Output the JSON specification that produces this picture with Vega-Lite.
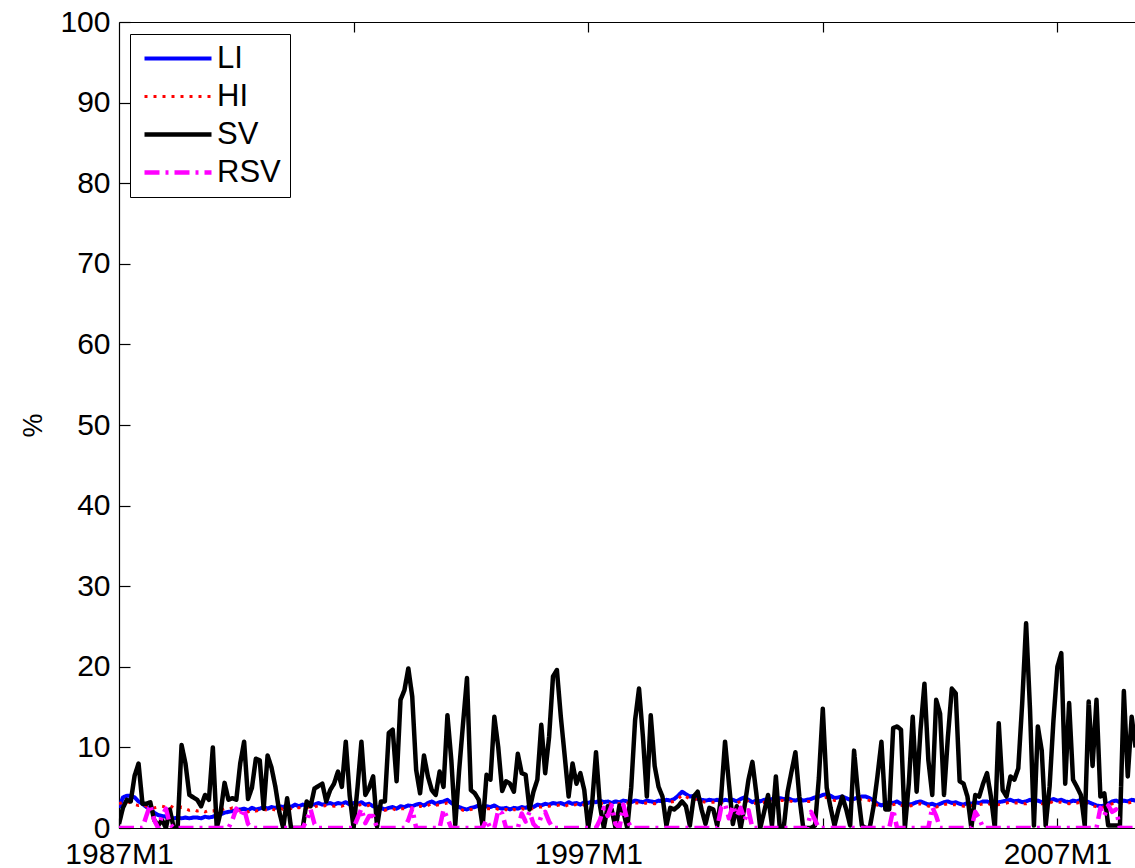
{
"$schema": "https://vega.github.io/schema/vega-lite/v6.json",
"width": 1016, "height": 806,
"autosize": {"type": "none"},
"padding": {"left": 119, "top": 22, "right": 0, "bottom": 40},
"background": "white",
"config": {"view": {"stroke": null}, "font": "Liberation Sans",
  "axis": {"domainColor": "#000", "tickColor": "#000", "labelColor": "#000", "titleColor": "#000", "grid": false, "labelFontSize": 30, "labelFont": "Liberation Sans", "domainWidth": 1.2, "tickWidth": 1.2},
  "legend": {"title": null, "orient": "none", "legendX": 11, "legendY": 12, "symbolType": "M-1,0H5.7", "symbolSize": 400, "labelFontSize": 31, "labelFont": "Liberation Sans", "labelColor": "#000", "padding": 9, "rowPadding": 6, "strokeColor": "#000", "fillColor": "#fff", "labelOffset": 47, "symbolStrokeWidth": 4}},
"data": {"values": [
{"m":0,"LI":2.5,"HI":3.0,"SV":0.5,"RSV":0},
{"m":1,"LI":3.8,"HI":3.2,"SV":2.5,"RSV":0},
{"m":2,"LI":4.0,"HI":3.3,"SV":3.5,"RSV":0},
{"m":3,"LI":4.0,"HI":3.1,"SV":3.3,"RSV":0},
{"m":4,"LI":3.8,"HI":2.9,"SV":6.5,"RSV":0},
{"m":5,"LI":3.3,"HI":2.8,"SV":8.0,"RSV":0},
{"m":6,"LI":3.0,"HI":2.9,"SV":3.0,"RSV":0},
{"m":7,"LI":2.6,"HI":2.7,"SV":3.0,"RSV":1.5},
{"m":8,"LI":2.3,"HI":2.6,"SV":3.2,"RSV":2.9},
{"m":9,"LI":1.9,"HI":2.5,"SV":1.0,"RSV":1.0},
{"m":10,"LI":1.6,"HI":2.6,"SV":0.3,"RSV":0},
{"m":11,"LI":1.5,"HI":2.7,"SV":1.0,"RSV":1.5},
{"m":12,"LI":1.4,"HI":2.6,"SV":0.0,"RSV":2.4},
{"m":13,"LI":1.3,"HI":2.8,"SV":2.3,"RSV":0.5},
{"m":14,"LI":1.2,"HI":2.5,"SV":0.0,"RSV":0},
{"m":15,"LI":1.3,"HI":2.4,"SV":0.0,"RSV":0},
{"m":16,"LI":1.2,"HI":2.6,"SV":10.3,"RSV":0},
{"m":17,"LI":1.3,"HI":2.4,"SV":8.0,"RSV":0},
{"m":18,"LI":1.2,"HI":2.2,"SV":4.1,"RSV":0},
{"m":19,"LI":1.3,"HI":2.3,"SV":3.8,"RSV":0},
{"m":20,"LI":1.3,"HI":2.1,"SV":3.5,"RSV":0},
{"m":21,"LI":1.2,"HI":2.2,"SV":2.7,"RSV":0},
{"m":22,"LI":1.4,"HI":2.0,"SV":4.1,"RSV":0},
{"m":23,"LI":1.3,"HI":2.2,"SV":3.5,"RSV":0},
{"m":24,"LI":1.4,"HI":2.1,"SV":10.0,"RSV":0},
{"m":25,"LI":1.6,"HI":2.3,"SV":0.0,"RSV":0},
{"m":26,"LI":1.7,"HI":2.2,"SV":2.0,"RSV":0},
{"m":27,"LI":1.9,"HI":2.4,"SV":5.6,"RSV":0},
{"m":28,"LI":2.0,"HI":2.3,"SV":3.5,"RSV":0},
{"m":29,"LI":2.1,"HI":2.5,"SV":3.7,"RSV":1.0},
{"m":30,"LI":2.2,"HI":2.4,"SV":3.5,"RSV":2.4},
{"m":31,"LI":2.3,"HI":2.1,"SV":8.0,"RSV":1.5},
{"m":32,"LI":2.4,"HI":2.2,"SV":10.7,"RSV":2.4},
{"m":33,"LI":2.2,"HI":2.0,"SV":3.6,"RSV":0.5},
{"m":34,"LI":2.5,"HI":2.2,"SV":5.0,"RSV":0},
{"m":35,"LI":2.3,"HI":2.1,"SV":8.6,"RSV":0},
{"m":36,"LI":2.4,"HI":2.2,"SV":8.4,"RSV":0},
{"m":37,"LI":2.6,"HI":2.3,"SV":2.4,"RSV":0},
{"m":38,"LI":2.4,"HI":2.2,"SV":9.0,"RSV":0},
{"m":39,"LI":2.6,"HI":2.4,"SV":7.5,"RSV":0},
{"m":40,"LI":2.5,"HI":2.2,"SV":5.1,"RSV":0},
{"m":41,"LI":2.7,"HI":2.5,"SV":2.0,"RSV":0},
{"m":42,"LI":2.6,"HI":2.3,"SV":0.0,"RSV":0},
{"m":43,"LI":2.8,"HI":2.5,"SV":3.7,"RSV":0},
{"m":44,"LI":2.6,"HI":2.4,"SV":0.0,"RSV":0},
{"m":45,"LI":2.9,"HI":2.6,"SV":0.0,"RSV":0},
{"m":46,"LI":2.7,"HI":2.5,"SV":0.0,"RSV":0},
{"m":47,"LI":2.9,"HI":2.6,"SV":0.0,"RSV":0},
{"m":48,"LI":2.8,"HI":2.5,"SV":3.3,"RSV":1.0},
{"m":49,"LI":3.0,"HI":2.7,"SV":2.7,"RSV":2.3},
{"m":50,"LI":2.9,"HI":2.6,"SV":4.9,"RSV":0.5},
{"m":51,"LI":3.1,"HI":2.8,"SV":5.2,"RSV":0},
{"m":52,"LI":2.9,"HI":2.7,"SV":5.5,"RSV":0},
{"m":53,"LI":3.0,"HI":2.8,"SV":3.3,"RSV":0},
{"m":54,"LI":3.1,"HI":2.8,"SV":4.7,"RSV":0},
{"m":55,"LI":2.9,"HI":2.7,"SV":5.5,"RSV":0},
{"m":56,"LI":3.1,"HI":2.8,"SV":7.0,"RSV":0},
{"m":57,"LI":3.0,"HI":2.7,"SV":5.1,"RSV":0},
{"m":58,"LI":3.2,"HI":2.9,"SV":10.7,"RSV":0},
{"m":59,"LI":2.9,"HI":2.7,"SV":4.0,"RSV":0},
{"m":60,"LI":3.1,"HI":2.8,"SV":0.0,"RSV":0},
{"m":61,"LI":3.0,"HI":2.8,"SV":5.0,"RSV":1.2},
{"m":62,"LI":3.2,"HI":2.9,"SV":10.7,"RSV":2.4},
{"m":63,"LI":2.9,"HI":2.7,"SV":4.1,"RSV":0.6},
{"m":64,"LI":3.0,"HI":2.8,"SV":5.0,"RSV":1.5},
{"m":65,"LI":2.7,"HI":2.5,"SV":6.4,"RSV":1.5},
{"m":66,"LI":2.6,"HI":2.4,"SV":0.2,"RSV":0},
{"m":67,"LI":2.5,"HI":2.3,"SV":3.3,"RSV":0},
{"m":68,"LI":2.3,"HI":2.2,"SV":3.3,"RSV":0},
{"m":69,"LI":2.5,"HI":2.3,"SV":11.8,"RSV":0},
{"m":70,"LI":2.6,"HI":2.4,"SV":12.2,"RSV":0},
{"m":71,"LI":2.4,"HI":2.2,"SV":5.8,"RSV":0},
{"m":72,"LI":2.7,"HI":2.4,"SV":15.9,"RSV":0},
{"m":73,"LI":2.6,"HI":2.4,"SV":17.1,"RSV":0},
{"m":74,"LI":2.8,"HI":2.5,"SV":19.8,"RSV":1.0},
{"m":75,"LI":2.7,"HI":2.5,"SV":16.3,"RSV":2.4},
{"m":76,"LI":2.9,"HI":2.6,"SV":7.2,"RSV":0},
{"m":77,"LI":3.0,"HI":2.7,"SV":4.3,"RSV":0},
{"m":78,"LI":2.8,"HI":2.6,"SV":9.0,"RSV":0},
{"m":79,"LI":3.1,"HI":2.8,"SV":6.4,"RSV":0},
{"m":80,"LI":3.3,"HI":3.0,"SV":4.7,"RSV":0},
{"m":81,"LI":3.0,"HI":2.8,"SV":4.1,"RSV":0},
{"m":82,"LI":3.2,"HI":2.9,"SV":7.0,"RSV":0},
{"m":83,"LI":3.3,"HI":3.0,"SV":5.1,"RSV":2.3},
{"m":84,"LI":3.5,"HI":3.1,"SV":14.0,"RSV":1.2},
{"m":85,"LI":3.1,"HI":2.9,"SV":8.4,"RSV":0},
{"m":86,"LI":2.8,"HI":2.6,"SV":0.4,"RSV":0},
{"m":87,"LI":2.6,"HI":2.4,"SV":7.2,"RSV":0},
{"m":88,"LI":2.4,"HI":2.2,"SV":13.0,"RSV":0},
{"m":89,"LI":2.3,"HI":2.1,"SV":18.6,"RSV":0},
{"m":90,"LI":2.5,"HI":2.3,"SV":4.7,"RSV":0},
{"m":91,"LI":2.6,"HI":2.4,"SV":4.3,"RSV":0},
{"m":92,"LI":2.8,"HI":2.5,"SV":3.5,"RSV":0},
{"m":93,"LI":2.5,"HI":2.3,"SV":0.2,"RSV":0},
{"m":94,"LI":2.7,"HI":2.4,"SV":6.6,"RSV":1.0},
{"m":95,"LI":2.6,"HI":2.4,"SV":6.0,"RSV":0},
{"m":96,"LI":2.8,"HI":2.5,"SV":13.8,"RSV":0},
{"m":97,"LI":2.5,"HI":2.3,"SV":10.0,"RSV":2.2},
{"m":98,"LI":2.4,"HI":2.2,"SV":4.6,"RSV":1.8},
{"m":99,"LI":2.5,"HI":2.3,"SV":5.8,"RSV":0},
{"m":100,"LI":2.3,"HI":2.1,"SV":5.5,"RSV":0},
{"m":101,"LI":2.5,"HI":2.3,"SV":4.5,"RSV":0},
{"m":102,"LI":2.4,"HI":2.2,"SV":9.2,"RSV":0},
{"m":103,"LI":2.6,"HI":2.4,"SV":6.8,"RSV":1.8},
{"m":104,"LI":2.5,"HI":2.3,"SV":6.6,"RSV":0.8},
{"m":105,"LI":2.7,"HI":2.4,"SV":2.3,"RSV":2.0},
{"m":106,"LI":2.6,"HI":2.4,"SV":4.5,"RSV":0.5},
{"m":107,"LI":2.9,"HI":2.6,"SV":6.0,"RSV":0},
{"m":108,"LI":2.8,"HI":2.6,"SV":12.8,"RSV":1.5},
{"m":109,"LI":3.0,"HI":2.7,"SV":6.8,"RSV":2.0},
{"m":110,"LI":2.9,"HI":2.7,"SV":11.3,"RSV":0.8},
{"m":111,"LI":3.1,"HI":2.8,"SV":18.8,"RSV":0},
{"m":112,"LI":3.0,"HI":2.8,"SV":19.6,"RSV":0},
{"m":113,"LI":3.1,"HI":2.9,"SV":13.8,"RSV":0},
{"m":114,"LI":2.9,"HI":2.7,"SV":8.9,"RSV":0},
{"m":115,"LI":3.2,"HI":2.9,"SV":3.9,"RSV":0},
{"m":116,"LI":3.0,"HI":2.8,"SV":8.0,"RSV":0},
{"m":117,"LI":3.1,"HI":2.9,"SV":5.5,"RSV":0},
{"m":118,"LI":2.9,"HI":2.7,"SV":6.8,"RSV":0},
{"m":119,"LI":3.2,"HI":2.9,"SV":4.7,"RSV":0},
{"m":120,"LI":3.1,"HI":2.9,"SV":0.0,"RSV":0},
{"m":121,"LI":3.3,"HI":3.0,"SV":3.0,"RSV":0},
{"m":122,"LI":3.2,"HI":3.0,"SV":9.4,"RSV":0},
{"m":123,"LI":3.4,"HI":3.1,"SV":2.8,"RSV":1.0},
{"m":124,"LI":3.2,"HI":3.0,"SV":0.0,"RSV":2.5},
{"m":125,"LI":3.3,"HI":3.1,"SV":2.7,"RSV":1.5},
{"m":126,"LI":3.1,"HI":2.9,"SV":2.3,"RSV":2.8},
{"m":127,"LI":3.3,"HI":3.0,"SV":0.0,"RSV":0.5},
{"m":128,"LI":3.2,"HI":3.0,"SV":2.8,"RSV":0},
{"m":129,"LI":3.4,"HI":3.1,"SV":2.0,"RSV":2.9},
{"m":130,"LI":3.3,"HI":3.1,"SV":0.0,"RSV":1.0},
{"m":131,"LI":3.2,"HI":3.0,"SV":5.0,"RSV":0},
{"m":132,"LI":3.4,"HI":3.1,"SV":13.4,"RSV":0},
{"m":133,"LI":3.3,"HI":3.1,"SV":17.3,"RSV":0},
{"m":134,"LI":3.2,"HI":3.0,"SV":11.3,"RSV":0},
{"m":135,"LI":3.4,"HI":3.1,"SV":3.9,"RSV":0},
{"m":136,"LI":3.3,"HI":3.1,"SV":14.0,"RSV":0},
{"m":137,"LI":3.2,"HI":3.0,"SV":7.7,"RSV":0},
{"m":138,"LI":3.4,"HI":3.1,"SV":5.1,"RSV":0},
{"m":139,"LI":3.3,"HI":3.1,"SV":3.9,"RSV":0},
{"m":140,"LI":3.5,"HI":3.2,"SV":0.3,"RSV":0},
{"m":141,"LI":3.4,"HI":3.2,"SV":2.5,"RSV":0},
{"m":142,"LI":3.6,"HI":3.3,"SV":2.3,"RSV":0},
{"m":143,"LI":4.0,"HI":3.6,"SV":2.7,"RSV":0},
{"m":144,"LI":4.5,"HI":4.1,"SV":3.3,"RSV":0},
{"m":145,"LI":4.2,"HI":3.9,"SV":2.7,"RSV":0},
{"m":146,"LI":3.9,"HI":3.6,"SV":0.3,"RSV":0},
{"m":147,"LI":4.0,"HI":3.7,"SV":3.9,"RSV":0},
{"m":148,"LI":3.6,"HI":3.4,"SV":4.5,"RSV":0},
{"m":149,"LI":3.5,"HI":3.3,"SV":2.3,"RSV":0},
{"m":150,"LI":3.4,"HI":3.2,"SV":0.5,"RSV":0},
{"m":151,"LI":3.5,"HI":3.2,"SV":2.5,"RSV":0},
{"m":152,"LI":3.4,"HI":3.2,"SV":2.3,"RSV":0},
{"m":153,"LI":3.5,"HI":3.3,"SV":0.3,"RSV":0},
{"m":154,"LI":3.3,"HI":3.1,"SV":3.9,"RSV":2.5},
{"m":155,"LI":3.5,"HI":3.2,"SV":10.7,"RSV":3.0},
{"m":156,"LI":3.4,"HI":3.2,"SV":5.5,"RSV":1.2},
{"m":157,"LI":3.5,"HI":3.3,"SV":0.5,"RSV":2.8},
{"m":158,"LI":3.3,"HI":3.1,"SV":2.7,"RSV":1.5},
{"m":159,"LI":3.6,"HI":3.3,"SV":0.0,"RSV":2.5},
{"m":160,"LI":3.8,"HI":3.5,"SV":2.7,"RSV":1.0},
{"m":161,"LI":3.5,"HI":3.3,"SV":6.0,"RSV":2.2},
{"m":162,"LI":3.2,"HI":3.0,"SV":8.2,"RSV":0},
{"m":163,"LI":3.4,"HI":3.1,"SV":4.3,"RSV":0},
{"m":164,"LI":3.3,"HI":3.1,"SV":0.0,"RSV":0},
{"m":165,"LI":3.5,"HI":3.2,"SV":2.0,"RSV":0},
{"m":166,"LI":3.4,"HI":3.2,"SV":4.1,"RSV":0},
{"m":167,"LI":3.6,"HI":3.3,"SV":0.3,"RSV":0},
{"m":168,"LI":3.5,"HI":3.3,"SV":6.4,"RSV":0},
{"m":169,"LI":3.7,"HI":3.4,"SV":0.0,"RSV":0},
{"m":170,"LI":3.6,"HI":3.4,"SV":0.0,"RSV":0},
{"m":171,"LI":3.7,"HI":3.4,"SV":4.5,"RSV":0},
{"m":172,"LI":3.5,"HI":3.3,"SV":7.0,"RSV":0},
{"m":173,"LI":3.4,"HI":3.2,"SV":9.4,"RSV":0},
{"m":174,"LI":3.6,"HI":3.3,"SV":3.9,"RSV":0},
{"m":175,"LI":3.4,"HI":3.2,"SV":0.0,"RSV":0},
{"m":176,"LI":3.5,"HI":3.3,"SV":0.0,"RSV":0},
{"m":177,"LI":3.6,"HI":3.3,"SV":0.0,"RSV":2.0},
{"m":178,"LI":3.8,"HI":3.5,"SV":0.3,"RSV":1.0},
{"m":179,"LI":3.9,"HI":3.6,"SV":6.2,"RSV":0},
{"m":180,"LI":4.1,"HI":3.7,"SV":14.8,"RSV":0},
{"m":181,"LI":4.2,"HI":3.8,"SV":5.0,"RSV":0},
{"m":182,"LI":4.0,"HI":3.7,"SV":2.5,"RSV":0},
{"m":183,"LI":3.7,"HI":3.4,"SV":0.3,"RSV":0},
{"m":184,"LI":3.8,"HI":3.5,"SV":2.3,"RSV":0},
{"m":185,"LI":3.9,"HI":3.6,"SV":3.9,"RSV":0},
{"m":186,"LI":3.7,"HI":3.4,"SV":2.3,"RSV":0},
{"m":187,"LI":3.5,"HI":3.3,"SV":0.3,"RSV":0},
{"m":188,"LI":3.6,"HI":3.3,"SV":9.6,"RSV":0},
{"m":189,"LI":3.8,"HI":3.5,"SV":4.3,"RSV":0},
{"m":190,"LI":3.9,"HI":3.6,"SV":0.3,"RSV":0},
{"m":191,"LI":3.9,"HI":3.6,"SV":0.0,"RSV":0},
{"m":192,"LI":3.7,"HI":3.4,"SV":0.0,"RSV":0},
{"m":193,"LI":3.4,"HI":3.2,"SV":2.7,"RSV":0},
{"m":194,"LI":3.0,"HI":2.8,"SV":6.5,"RSV":0},
{"m":195,"LI":2.8,"HI":2.6,"SV":10.7,"RSV":0},
{"m":196,"LI":3.0,"HI":2.8,"SV":2.3,"RSV":0},
{"m":197,"LI":3.2,"HI":2.9,"SV":2.3,"RSV":0},
{"m":198,"LI":3.1,"HI":2.9,"SV":12.4,"RSV":2.3},
{"m":199,"LI":3.3,"HI":3.0,"SV":12.6,"RSV":0},
{"m":200,"LI":3.0,"HI":2.8,"SV":12.2,"RSV":0},
{"m":201,"LI":3.1,"HI":2.9,"SV":0.0,"RSV":0},
{"m":202,"LI":2.9,"HI":2.7,"SV":5.5,"RSV":0},
{"m":203,"LI":3.0,"HI":2.8,"SV":13.8,"RSV":0},
{"m":204,"LI":3.2,"HI":2.9,"SV":4.5,"RSV":0},
{"m":205,"LI":3.3,"HI":3.0,"SV":12.2,"RSV":0},
{"m":206,"LI":3.1,"HI":2.9,"SV":17.9,"RSV":0},
{"m":207,"LI":2.9,"HI":2.7,"SV":8.4,"RSV":0},
{"m":208,"LI":3.0,"HI":2.8,"SV":4.1,"RSV":2.6},
{"m":209,"LI":2.8,"HI":2.6,"SV":15.9,"RSV":1.5},
{"m":210,"LI":3.0,"HI":2.7,"SV":14.2,"RSV":0},
{"m":211,"LI":3.2,"HI":2.9,"SV":4.1,"RSV":0},
{"m":212,"LI":3.3,"HI":3.0,"SV":11.3,"RSV":0},
{"m":213,"LI":3.1,"HI":2.9,"SV":17.3,"RSV":0},
{"m":214,"LI":3.2,"HI":2.9,"SV":16.7,"RSV":0},
{"m":215,"LI":3.0,"HI":2.8,"SV":5.8,"RSV":0},
{"m":216,"LI":2.9,"HI":2.7,"SV":5.5,"RSV":0},
{"m":217,"LI":3.1,"HI":2.8,"SV":3.9,"RSV":0},
{"m":218,"LI":3.0,"HI":2.8,"SV":0.0,"RSV":0},
{"m":219,"LI":3.2,"HI":2.9,"SV":4.1,"RSV":2.0},
{"m":220,"LI":3.1,"HI":2.9,"SV":3.9,"RSV":1.2},
{"m":221,"LI":3.3,"HI":3.0,"SV":5.5,"RSV":0},
{"m":222,"LI":3.3,"HI":3.1,"SV":6.8,"RSV":0},
{"m":223,"LI":3.1,"HI":2.9,"SV":3.9,"RSV":0},
{"m":224,"LI":3.0,"HI":2.8,"SV":0.0,"RSV":0},
{"m":225,"LI":3.2,"HI":2.9,"SV":13.0,"RSV":0},
{"m":226,"LI":3.3,"HI":3.0,"SV":4.7,"RSV":0},
{"m":227,"LI":3.4,"HI":3.1,"SV":3.9,"RSV":0},
{"m":228,"LI":3.5,"HI":3.2,"SV":6.4,"RSV":0},
{"m":229,"LI":3.3,"HI":3.1,"SV":6.0,"RSV":0},
{"m":230,"LI":3.4,"HI":3.1,"SV":7.4,"RSV":0},
{"m":231,"LI":3.2,"HI":3.0,"SV":15.5,"RSV":0},
{"m":232,"LI":3.3,"HI":3.0,"SV":25.4,"RSV":0},
{"m":233,"LI":3.5,"HI":3.2,"SV":14.7,"RSV":0},
{"m":234,"LI":3.3,"HI":3.1,"SV":0.3,"RSV":0},
{"m":235,"LI":3.4,"HI":3.1,"SV":12.6,"RSV":0},
{"m":236,"LI":3.2,"HI":3.0,"SV":9.6,"RSV":0},
{"m":237,"LI":3.3,"HI":3.1,"SV":0.3,"RSV":0},
{"m":238,"LI":3.4,"HI":3.1,"SV":5.1,"RSV":0},
{"m":239,"LI":3.6,"HI":3.3,"SV":13.4,"RSV":0},
{"m":240,"LI":3.4,"HI":3.2,"SV":20.0,"RSV":0},
{"m":241,"LI":3.5,"HI":3.2,"SV":21.7,"RSV":0},
{"m":242,"LI":3.3,"HI":3.1,"SV":5.5,"RSV":0},
{"m":243,"LI":3.2,"HI":3.0,"SV":15.5,"RSV":0},
{"m":244,"LI":3.4,"HI":3.1,"SV":6.0,"RSV":0},
{"m":245,"LI":3.3,"HI":3.1,"SV":5.1,"RSV":0},
{"m":246,"LI":3.5,"HI":3.2,"SV":4.1,"RSV":0},
{"m":247,"LI":3.4,"HI":3.2,"SV":0.3,"RSV":0},
{"m":248,"LI":3.2,"HI":3.0,"SV":15.7,"RSV":0},
{"m":249,"LI":3.0,"HI":2.8,"SV":7.7,"RSV":0},
{"m":250,"LI":2.8,"HI":2.6,"SV":15.9,"RSV":0},
{"m":251,"LI":2.7,"HI":2.5,"SV":3.9,"RSV":2.5},
{"m":252,"LI":2.8,"HI":2.6,"SV":4.3,"RSV":1.5},
{"m":253,"LI":3.0,"HI":2.8,"SV":0.3,"RSV":2.8},
{"m":254,"LI":3.3,"HI":3.0,"SV":0.3,"RSV":2.0},
{"m":255,"LI":3.4,"HI":3.1,"SV":0.3,"RSV":2.3},
{"m":256,"LI":3.2,"HI":3.0,"SV":0.3,"RSV":0},
{"m":257,"LI":3.4,"HI":3.1,"SV":17.0,"RSV":0},
{"m":258,"LI":3.3,"HI":3.1,"SV":6.4,"RSV":0},
{"m":259,"LI":3.5,"HI":3.2,"SV":13.8,"RSV":0},
{"m":260,"LI":3.4,"HI":3.2,"SV":10.0,"RSV":0}
]},
"transform": [{"fold": ["LI", "HI", "SV", "RSV"], "as": ["series", "value"]}],
"layer": [
 {"mark": {"type": "line", "clip": true, "strokeJoin": "round"},
  "encoding": {
   "x": {"field": "m", "type": "quantitative", "scale": {"domain": [0, 259.85], "nice": false, "zero": false},
     "axis": {"orient": "bottom", "values": [0, 60, 120, 180, 240], "title": null,
       "labelExpr": "datum.value == 0 ? '1987M1' : datum.value == 120 ? '1997M1' : datum.value == 240 ? '2007M1' : ''",
       "tickSize": -10, "labelPadding": 21, "labelFlush": false, "labelOverlap": false, "labelBound": false}},
   "y": {"field": "value", "type": "quantitative", "scale": {"domain": [0, 100], "nice": false},
     "axis": {"values": [0, 10, 20, 30, 40, 50, 60, 70, 80, 90, 100], "title": "%", "titleFontSize": 27, "titleFontWeight": "normal", "titleFont": "Liberation Sans",
       "titleAngle": -90, "titleX": -86, "titleY": 403, "titleAlign": "center", "titleBaseline": "middle",
       "tickSize": -11, "labelPadding": 20}},
   "color": {"field": "series", "type": "nominal", "scale": {"domain": ["LI", "HI", "SV", "RSV"], "range": ["#0000ff", "#ff0000", "#000000", "#ff00ff"]}},
   "strokeDash": {"field": "series", "type": "nominal", "scale": {"domain": ["LI", "HI", "SV", "RSV"], "range": [[1, 0], [3, 6], [1, 0], [15, 6, 3, 6]]}},
   "strokeWidth": {"field": "series", "type": "nominal", "scale": {"type": "ordinal", "domain": ["LI", "HI", "SV", "RSV"], "range": [4, 3, 4.5, 4.5]}}
  }},
 {"mark": {"type": "line", "opacity": 0},
  "encoding": {
   "x": {"field": "m", "type": "quantitative", "axis": {"orient": "top", "values": [60, 120, 180, 240], "labels": false, "title": null, "tickSize": -10}},
   "y": {"field": "value", "type": "quantitative"}
  }}
],
"resolve": {"axis": {"x": "independent"}}
}
